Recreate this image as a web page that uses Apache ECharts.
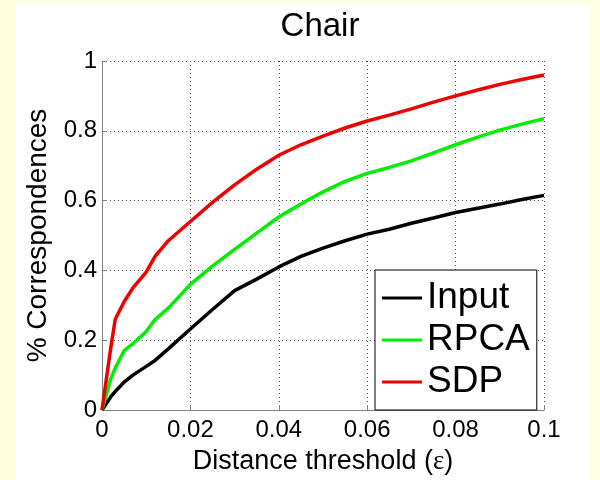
<!DOCTYPE html>
<html>
<head>
<meta charset="utf-8">
<script src="https://cdn.jsdelivr.net/npm/echarts@6/dist/echarts.min.js"></script>
<style>
  html, body { margin: 0; padding: 0; background: #FFFFE1; }
  #panel { position: absolute; left: 15px; top: 3px; width: 575px; height: 477px; background: #ffffff; }
  #chart { position: absolute; left: 0; top: 0; width: 600px; height: 480px; }
</style>
</head>
<body>
<div id="panel"></div>
<div id="chart"></div>
<script>
// Distance thresholds (x) shared by all three curves
const thresholds = [0, 0.002, 0.003, 0.005, 0.007, 0.01, 0.012, 0.015, 0.02, 0.025, 0.03, 0.035, 0.04,
  0.045, 0.05, 0.055, 0.06, 0.065, 0.07, 0.075, 0.08, 0.085, 0.09, 0.095, 0.1];

// Fraction of correct correspondences at each threshold
const inputVals = [0, 0.038, 0.053, 0.08, 0.1, 0.125, 0.142, 0.175, 0.232, 0.288, 0.342, 0.375, 0.41,
  0.44, 0.464, 0.485, 0.504, 0.518, 0.535, 0.55, 0.566, 0.578, 0.59, 0.603, 0.615];
const rpcaVals = [0, 0.09, 0.12, 0.17, 0.19, 0.225, 0.259, 0.292, 0.36, 0.412, 0.46, 0.507, 0.553,
  0.59, 0.625, 0.655, 0.678, 0.695, 0.714, 0.737, 0.76, 0.782, 0.802, 0.819, 0.835];
const sdpVals = [0, 0.18, 0.26, 0.31, 0.35, 0.395, 0.44, 0.485, 0.54, 0.595, 0.645, 0.69, 0.73,
  0.76, 0.785, 0.808, 0.828, 0.845, 0.863, 0.882, 0.9, 0.917, 0.933, 0.947, 0.96];

const seriesNames = ['Input', 'RPCA', 'SDP'];
const seriesColors = ['#000000', '#00ee00', '#ee0000'];
const titleText = 'Chair';

const pairs = vals => thresholds.map((t, i) => [t, vals[i]]);
const allVals = [inputVals, rpcaVals, sdpVals];

const font = 'Liberation Sans, Arial, Helvetica, sans-serif';
const fmt = v => String(parseFloat(v.toFixed(2)));

const chart = echarts.init(document.getElementById('chart'), null, { renderer: 'canvas' });
chart.setOption({
  backgroundColor: 'transparent',
  animation: false,
  graphic: [{
    type: 'text',
    x: 320, y: 27,
    style: {
      text: titleText, fill: '#000', font: '33px ' + font,
      textAlign: 'center', textVerticalAlign: 'middle'
    }
  }],
  grid: { left: 102, right: 56, top: 61, bottom: 65, containLabel: false },
  legend: {
    orient: 'vertical',
    left: 375, top: 270,
    data: seriesNames,
    icon: 'rect',
    itemWidth: 40, itemHeight: 3,
    itemGap: 2,
    padding: [8, 7, 8, 7],
    backgroundColor: '#ffffff',
    borderColor: '#000000', borderWidth: 1,
    textStyle: { fontFamily: font, fontSize: 37, color: '#000', lineHeight: 40 }
  },
  xAxis: {
    type: 'value', min: 0, max: 0.1, interval: 0.02,
    name: 'Distance threshold ({eps|ε})',
    nameLocation: 'middle', nameGap: 38,
    nameTextStyle: {
      fontFamily: font, fontSize: 27, color: '#000',
      rich: { eps: { fontFamily: 'Liberation Serif, Times New Roman, serif', fontSize: 27, color: '#000' } }
    },
    axisLine: { show: true, lineStyle: { color: '#808080', width: 1 } },
    axisTick: { show: true, inside: true, length: 5, lineStyle: { color: '#808080' } },
    axisLabel: { fontFamily: font, fontSize: 24, color: '#000', margin: 8, formatter: fmt },
    splitLine: { show: true, lineStyle: { color: '#555', type: [1, 3], width: 1 } }
  },
  yAxis: {
    type: 'value', min: 0, max: 1, interval: 0.2,
    name: '% Correspondences',
    nameLocation: 'middle', nameGap: 50,
    nameTextStyle: { fontFamily: font, fontSize: 28, color: '#000' },
    axisLine: { show: true, lineStyle: { color: '#808080', width: 1 } },
    axisTick: { show: true, inside: true, length: 5, lineStyle: { color: '#808080' } },
    axisLabel: { fontFamily: font, fontSize: 24, color: '#000', margin: 5, formatter: fmt },
    splitLine: { show: true, lineStyle: { color: '#555', type: [1, 3], width: 1 } }
  },
  series: seriesNames.map((name, i) => ({
    name,
    type: 'line',
    data: pairs(allVals[i]),
    showSymbol: false,
    smooth: false,
    color: seriesColors[i],
    lineStyle: { width: 3.5, color: seriesColors[i] }
  }))
});
</script>
</body>
</html>
